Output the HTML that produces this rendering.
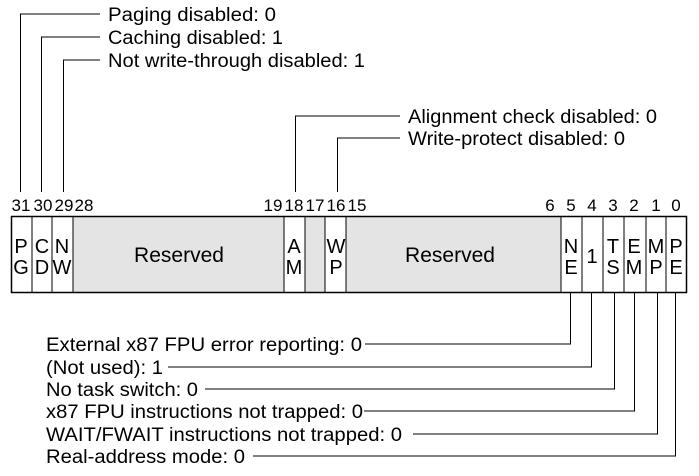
<!DOCTYPE html>
<html><head><meta charset="utf-8"><style>html,body{margin:0;padding:0;background:#fff}svg{display:block}</style></head>
<body>
<svg width="699" height="476" xmlns="http://www.w3.org/2000/svg" font-family="Liberation Sans, Arial, sans-serif" font-size="19" fill="#000">
<g stroke="#000" stroke-width="1" fill="none">
<rect x="73" y="216" width="211" height="77" fill="#e4e4e4" stroke="none"/>
<rect x="305" y="216" width="20" height="77" fill="#e4e4e4" stroke="none"/>
<rect x="346" y="216" width="215" height="77" fill="#e4e4e4" stroke="none"/>
<rect x="11.5" y="216.5" width="675" height="76" stroke-width="1.5"/>
<path d="M32 216V293M52 216V293M73 216V293M284 216V293M305 216V293M325 216V293M346 216V293M561 216V293M582 216V293M603 216V293M624 216V293M646 216V293M666 216V293"/>
<path d="M20.5 192V14H100M41.5 192V37H100M63.5 192V60H100M295.5 192V116H400M337.5 192V138H400"/>
<path d="M570.5 293V344H365M591.5 293V367H168M614.5 293V389H205M634.5 293V411H364M657.5 293V434H413M675.5 293V456H253"/>
</g>
<g>
<text x="108" y="21" textLength="168" lengthAdjust="spacingAndGlyphs">Paging disabled: 0</text>
<text x="108" y="44" textLength="175" lengthAdjust="spacingAndGlyphs">Caching disabled: 1</text>
<text x="108" y="67" textLength="257" lengthAdjust="spacingAndGlyphs">Not write-through disabled: 1</text>
<text x="408" y="123" textLength="249" lengthAdjust="spacingAndGlyphs">Alignment check disabled: 0</text>
<text x="408" y="145" textLength="217" lengthAdjust="spacingAndGlyphs">Write-protect disabled: 0</text>
<text x="46" y="351" textLength="316" lengthAdjust="spacingAndGlyphs">External x87 FPU error reporting: 0</text>
<text x="46" y="374" textLength="117" lengthAdjust="spacingAndGlyphs">(Not used): 1</text>
<text x="46" y="396" textLength="152" lengthAdjust="spacingAndGlyphs">No task switch: 0</text>
<text x="46" y="418" textLength="317" lengthAdjust="spacingAndGlyphs">x87 FPU instructions not trapped: 0</text>
<text x="46" y="441" textLength="356" lengthAdjust="spacingAndGlyphs">WAIT/FWAIT instructions not trapped: 0</text>
<text x="46" y="463" textLength="199" lengthAdjust="spacingAndGlyphs">Real-address mode: 0</text>
</g>
<g font-size="17" text-anchor="middle">
<text x="21" y="211">31</text><text x="43" y="211">30</text><text x="64" y="211">29</text><text x="84" y="211">28</text>
<text x="273" y="211">19</text><text x="294" y="211">18</text><text x="315" y="211">17</text><text x="336" y="211">16</text><text x="357" y="211">15</text>
<text x="550" y="211">6</text><text x="571" y="211">5</text><text x="592" y="211">4</text><text x="613" y="211">3</text><text x="634" y="211">2</text><text x="656" y="211">1</text><text x="676" y="211">0</text>
</g>
<g font-size="20" text-anchor="middle">
<text x="21" y="253">P</text><text x="21" y="274">G</text>
<text x="42" y="253">C</text><text x="42" y="274">D</text>
<text x="62" y="253">N</text><text x="62" y="274">W</text>
<text x="179" y="262" font-size="21">Reserved</text>
<text x="294" y="253">A</text><text x="294" y="274">M</text>
<text x="336" y="253">W</text><text x="336" y="274">P</text>
<text x="450" y="262" font-size="21">Reserved</text>
<text x="571" y="253">N</text><text x="571" y="274">E</text>
<text x="592" y="263">1</text>
<text x="613" y="253">T</text><text x="613" y="274">S</text>
<text x="634" y="253">E</text><text x="634" y="274">M</text>
<text x="656" y="253">M</text><text x="656" y="274">P</text>
<text x="676" y="253">P</text><text x="676" y="274">E</text>
</g>
</svg>
</body></html>
